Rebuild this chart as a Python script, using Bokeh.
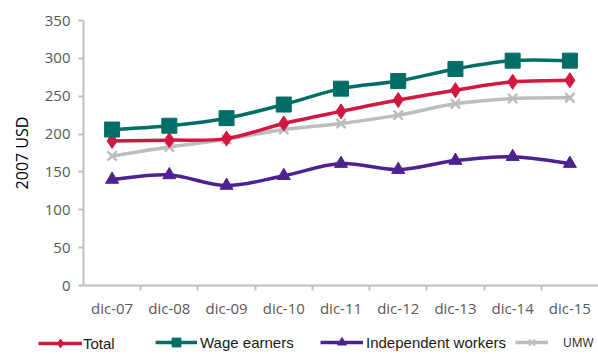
from bokeh.plotting import figure
from bokeh.layouts import column
from bokeh.models import (Range1d, FixedTicker, Legend, LegendItem, ColumnDataSource)
from bokeh.embed import file_html
from bokeh.resources import INLINE

categories = ["dic-07", "dic-08", "dic-09", "dic-10", "dic-11", "dic-12", "dic-13", "dic-14", "dic-15"]
total = [191, 192, 194, 214, 230, 245, 258, 269, 271]
wage_earners = [206, 211, 221, 239, 260, 270, 286, 297, 297]
independent = [140, 146, 132, 145, 161, 153, 165, 170, 161]
umw = [171, 183, 193, 206, 214, 225, 240, 247, 248]
y_ticks = [0, 50, 100, 150, 200, 250, 300, 350]

xs = [i + 0.5 for i in range(len(categories))]

p = figure(width=598, height=320, output_backend="svg", toolbar_location=None,
           x_range=Range1d(0, len(categories)), y_range=Range1d(0, 350),
           min_border_left=83, min_border_right=0, min_border_top=20, min_border_bottom=35,
           frame_align=False)
p.outline_line_color = None
p.xgrid.visible = False
p.ygrid.visible = False
p.background_fill_color = "white"
p.border_fill_color = "white"

grey_txt = "#595959"
axis_col = "#BFBFBF"

xa = p.xaxis[0]
xa.ticker = FixedTicker(ticks=xs, minor_ticks=list(range(1, len(categories))))
xa.major_label_overrides = {x: c for x, c in zip(xs, categories)}
xa.major_tick_out = 0
xa.major_tick_in = 0
xa.minor_tick_out = 5
xa.minor_tick_in = 0
xa.minor_tick_line_color = axis_col
xa.minor_tick_line_width = 2
xa.axis_line_color = axis_col
xa.axis_line_width = 2
xa.major_label_text_font = "Open Sans"
xa.major_label_text_font_size = "15px"
xa.major_label_text_color = grey_txt
xa.major_label_standoff = 7

ya = p.yaxis[0]
ya.ticker = FixedTicker(ticks=y_ticks)
ya.minor_tick_line_color = None
ya.major_tick_out = 5
ya.major_tick_in = 0
ya.major_tick_line_color = axis_col
ya.major_tick_line_width = 2
ya.axis_line_color = axis_col
ya.axis_line_width = 2
ya.major_label_text_font = "Open Sans"
ya.major_label_text_font_size = "15px"
ya.major_label_text_color = grey_txt
ya.major_label_standoff = 8
ya.axis_label = "2007 USD"
ya.axis_label_text_font = "Open Sans"
ya.axis_label_text_font_style = "normal"
ya.axis_label_text_font_size = "16px"
ya.axis_label_text_color = "#000000"
ya.axis_label_standoff = 9


def smooth_segments(x, y, t=1.0 / 6.0):
    n = len(x)
    d = dict(x0=[], y0=[], x1=[], y1=[], cx0=[], cy0=[], cx1=[], cy1=[])
    for i in range(n - 1):
        xm, ym = (x[i - 1], y[i - 1]) if i > 0 else (x[i], y[i])
        xp, yp = (x[i + 2], y[i + 2]) if i + 2 < n else (x[i + 1], y[i + 1])
        d["x0"].append(x[i]); d["y0"].append(y[i])
        d["x1"].append(x[i + 1]); d["y1"].append(y[i + 1])
        d["cx0"].append(x[i] + (x[i + 1] - xm) * t)
        d["cy0"].append(y[i] + (y[i + 1] - ym) * t)
        d["cx1"].append(x[i + 1] - (xp - x[i]) * t)
        d["cy1"].append(y[i + 1] - (yp - y[i]) * t)
    return ColumnDataSource(d)


series = [
    ("Total", total, "#D2183F", "diamond", 15),
    ("Wage earners", wage_earners, "#006E66", "square", 15),
    ("Independent workers", independent, "#4E2192", "triangle", 13),
    ("UMW", umw, "#BDBDBD", "x", 13),
]

for idx in [3, 0, 1, 2]:
    name, vals, col, marker, size = series[idx]
    src = smooth_segments(xs, vals)
    p.bezier(x0="x0", y0="y0", x1="x1", y1="y1", cx0="cx0", cy0="cy0",
             cx1="cx1", cy1="cy1", source=src, line_color=col, line_width=3.5)
    if marker == "x":
        p.scatter(xs, vals, marker=marker, size=size, line_color=col, line_width=2.5)
    else:
        p.scatter(xs, vals, marker=marker, size=size, fill_color=col, line_color=col)

# ---- legend strip (separate figure so the legend can sit below the axis freely) ----
# its y range holds none of the data, so the key renderers only feed the legend
lg = figure(width=598, height=34, output_backend="svg", toolbar_location=None,
            x_range=Range1d(0, 1), y_range=Range1d(0, 1),
            x_axis_type=None, y_axis_type=None,
            min_border_left=0, min_border_right=0, min_border_top=0, min_border_bottom=0,
            frame_align=False)
lg.outline_line_color = None
lg.xgrid.visible = False
lg.ygrid.visible = False
lg.background_fill_color = "white"
lg.border_fill_color = "white"

leg_cfg = [
    # (x location, y location, glyph width, standoff, font, size)
    (38, 0, 44, 1, "Liberation Sans", "15px"),
    (155, 1, 42, 3, "Liberation Sans", "15px"),
    (320, 1, 43, 3, "Liberation Sans", "15px"),
    (515, 1, 33, 15, "Open Sans", "12px"),
]
for idx, (name, vals, col, marker, size) in enumerate(series):
    lx, ly, gw, so, fnt, fs = leg_cfg[idx]
    src = ColumnDataSource(dict(x=xs[:1], y=vals[:1]))
    lr = lg.line(x="x", y="y", source=src, line_color=col, line_width=3.5)
    if marker == "x":
        sr = lg.scatter(x="x", y="y", source=src, marker=marker, size=size,
                        line_color=col, line_width=2)
    else:
        sr = lg.scatter(x="x", y="y", source=src, marker=marker, size=size,
                        fill_color=col, line_color=col)
    leg = Legend(items=[LegendItem(label=name, renderers=[lr, sr])],
                 location=(lx, ly), orientation="horizontal",
                 glyph_width=gw, glyph_height=22, label_standoff=so,
                 padding=0, margin=0, spacing=0,
                 border_line_alpha=0, background_fill_alpha=0,
                 label_text_font=fnt, label_text_font_size=fs,
                 label_text_color="#1a1a1a", label_height=22)
    lg.add_layout(leg, "center")

layout = column(p, lg, spacing=0)
open("out.html", "w").write(file_html(layout, INLINE))
